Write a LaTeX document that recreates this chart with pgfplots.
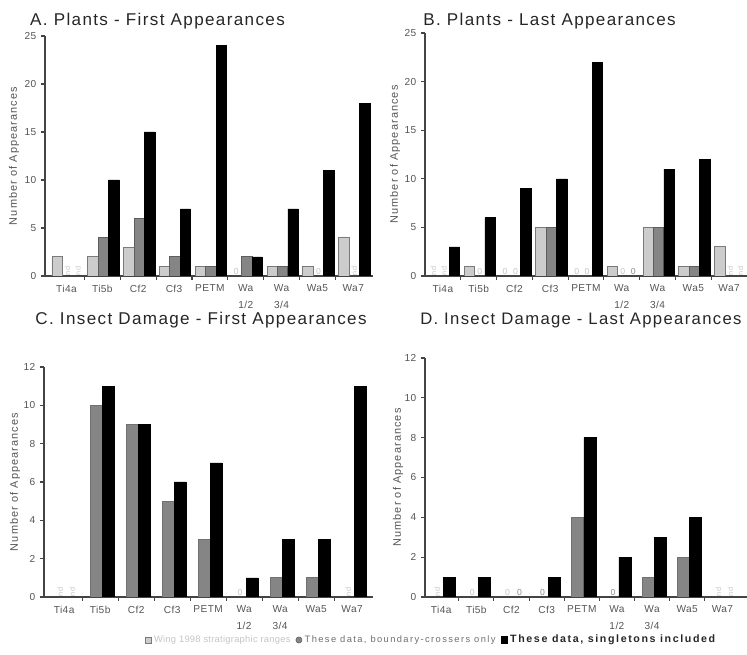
\documentclass[border=0pt]{standalone}
\usepackage{pgfplots}
\pgfplotsset{compat=1.18}
\usepackage{fontspec}
\setmainfont{Liberation Sans}
\newfontfamily\titlefont[LetterSpace=8]{Liberation Sans}
\newfontfamily\lblfont[LetterSpace=10]{Liberation Sans}
\newfontfamily\tickfont[LetterSpace=4]{Liberation Sans}
\newfontfamily\legfontA[LetterSpace=3]{Liberation Sans}
\newfontfamily\legfontB[LetterSpace=15]{Liberation Sans}
\newfontfamily\legfontC[LetterSpace=15]{Liberation Sans}
\definecolor{lightbar}{HTML}{CCCCCC}
\definecolor{lightedge}{HTML}{7A7A7A}
\definecolor{midbar}{HTML}{858585}
\definecolor{midedge}{HTML}{5E5E5E}
\definecolor{ticktext}{HTML}{555555}
\definecolor{faint}{HTML}{C4C4C4}
\definecolor{midtext}{HTML}{8A8A8A}
\definecolor{axisline}{HTML}{444444}
\newcommand{\ndlab}[3]{\node[rotate=90, anchor=west, font=\fontsize{5.5}{5.5}\selectfont, text=#3, inner sep=0.5pt] at ([xshift=#1]axis cs:#2,0) {nd};}
\newcommand{\zlab}[3]{\node[anchor=south, font=\fontsize{6.5}{6.5}\selectfont, text=#3, inner sep=1pt] at ([xshift=#1]axis cs:#2,0) {0};}
\pgfplotsset{
 panel/.style={
  scale only axis,
  axis x line*=bottom, axis y line*=left,
  axis line style={axisline, line width=1.1pt},
  xmin=-0.5, xmax=8.5, ymin=0,
  xtick={0,...,8},
  xticklabels={Ti4a,Ti5b,Cf2,Cf3,PETM,{Wa\\[3.5pt]1/2},{Wa\\[3.5pt]3/4},Wa5,Wa7},
  major x tick style={draw=none},
  minor xtick={0.5,1.5,...,7.5},
  minor x tick style={axisline, line width=0.8pt},
  minor tick length=3pt,
  ytick style={axisline, line width=0.8pt},
  major tick length=3pt,
  tick align=outside,
  /pgf/number format/assume math mode=true,
  ticklabel style={font=\tickfont\fontsize{7.6}{9}\selectfont, text=ticktext},
  xticklabel style={align=center},
  ylabel={Number of Appearances},
  ylabel style={font=\lblfont\fontsize{8.2}{10}\selectfont, text=ticktext, anchor=center},
  title style={font=\titlefont\fontsize{12.8}{14}\selectfont, text=black!85, anchor=west, yshift=-6.75pt, inner sep=0pt},
 },
 lbar/.style={ybar, bar width=7.8pt, bar shift=-7pt, fill=lightbar, draw=lightedge, line width=0.7pt, forget plot},
 gbar/.style={ybar, bar width=7.8pt, bar shift=0.8pt, fill=midbar, draw=midedge, line width=0.7pt, forget plot},
 kbar/.style={ybar, bar width=7.8pt, bar shift=8.6pt, fill=black, draw=black, forget plot},
 gbar2/.style={ybar, bar width=9pt, bar shift=-3pt, fill=midbar, draw=midbar!85!black, line width=0.5pt, forget plot},
 kbar2/.style={ybar, bar width=9pt, bar shift=6pt, fill=black, draw=black, forget plot},
}
\begin{document}
\begin{tikzpicture}
\path[use as bounding box] (0,0) rectangle (560.25pt,491.25pt);

% Panel A
\begin{axis}[panel, at={(33.75pt,284.25pt)}, anchor=south west,
  width=246pt, height=180pt, ymax=25, ytick={0,5,...,25},
  xmin=-0.6, xmax=8.55,
  ylabel style={at={(axis description cs:-0.0945,0.5)}},
  title={A. Plants - First Appearances},
  title style={at={(axis description cs:-0.046,1.067)}}]
\addplot[lbar] coordinates {(0,2)(1,2)(2,3)(3,1)(4,1)(6,1)(7,1)(8,4)};
\addplot[gbar] coordinates {(1,4)(2,6)(3,2)(4,1)(5,2)(6,1)};
\addplot[kbar] coordinates {(1,10)(2,15)(3,7)(4,24)(5,2)(6,7)(7,11)(8,18)};
\ndlab{0.8pt}{0}{faint}
\ndlab{8.6pt}{0}{faint}
\zlab{-7pt}{5}{faint}
\zlab{0.8pt}{7}{faint}
\ndlab{0.8pt}{8}{faint}
\end{axis}

% Panel B
\begin{axis}[panel, at={(318.75pt,284.25pt)}, anchor=south west,
  width=241.5pt, height=182.25pt, ymax=25, ytick={0,5,...,25},
  ylabel style={at={(axis description cs:-0.093,0.5)}},
  title={B. Plants - Last Appearances},
  title style={at={(axis description cs:-0.006,1.053)}}]
\addplot[lbar] coordinates {(1,1)(3,5)(5,1)(6,5)(7,1)(8,3)};
\addplot[gbar] coordinates {(3,5)(6,5)(7,1)};
\addplot[kbar] coordinates {(0,3)(1,6)(2,9)(3,10)(4,22)(6,11)(7,12)};
\ndlab{-7pt}{0}{faint}
\ndlab{0.8pt}{0}{faint}
\zlab{0.8pt}{1}{faint}
\zlab{-7pt}{2}{faint}
\zlab{0.8pt}{2}{faint}
\zlab{-7pt}{4}{faint}
\zlab{0.8pt}{4}{faint}
\zlab{0.8pt}{5}{faint}
\zlab{8.6pt}{5}{midtext}
\ndlab{0.8pt}{8}{faint}
\ndlab{8.6pt}{8}{faint}
\end{axis}

% Panel C
\begin{axis}[panel, at={(33pt,43.5pt)}, anchor=south west,
  width=246.75pt, height=172.5pt, ymax=12, ytick={0,2,...,12},
  xmin=-0.56, xmax=8.58,
  ylabel style={at={(axis description cs:-0.088,0.5)}},
  title={C. Insect Damage - First Appearances},
  title style={at={(axis description cs:-0.027,1.209)}},
  legend style={at={(axis description cs:0.307,-0.187)}, anchor=west,
    draw=none, fill=none, inner sep=0pt, legend columns=3,
    font=\fontsize{7}{8}\selectfont,
    /tikz/every even column/.append style={column sep=2pt}},
  legend cell align=left]
\addplot[gbar2] coordinates {(1,10)(2,9)(3,5)(4,3)(6,1)(7,1)};
\addplot[kbar2] coordinates {(1,11)(2,9)(3,6)(4,7)(5,1)(6,3)(7,3)(8,11)};
\ndlab{-3pt}{0}{faint}
\ndlab{6pt}{0}{faint}
\zlab{-3pt}{5}{faint}
\ndlab{-3pt}{8}{faint}
\addlegendimage{only marks, mark=square*, mark size=2.3pt, mark options={fill=lightbar, draw=lightedge}}
\addlegendentry{\legfontA\textcolor{faint}{Wing 1998 stratigraphic ranges}}
\addlegendimage{only marks, mark=*, mark size=2.3pt, mark options={fill=midbar, draw=midedge}}
\addlegendentry{\legfontB\textcolor{midtext!80!black}{These data, boundary-crossers only}}
\addlegendimage{only marks, mark=square*, mark size=2.5pt, mark options={fill=black, draw=black}}
\addlegendentry{\legfontC\fontsize{8}{9}\selectfont\bfseries\textcolor{black!85}{These data, singletons included}}
\end{axis}

% Panel D
\begin{axis}[panel, at={(318.75pt,43.5pt)}, anchor=south west,
  width=241.5pt, height=179.25pt, ymax=12, ytick={0,2,...,12},
  xmin=-0.46, xmax=8.7,
  ylabel style={at={(axis description cs:-0.084,0.5)}},
  title={D. Insect Damage - Last Appearances},
  title style={at={(axis description cs:-0.0155,1.159)}, font=\titlefont\fontsize{12.5}{14}\selectfont}]
\addplot[gbar2] coordinates {(4,4)(6,1)(7,2)};
\addplot[kbar2] coordinates {(0,1)(1,1)(3,1)(4,8)(5,2)(6,3)(7,4)};
\ndlab{-3pt}{0}{faint}
\zlab{-3pt}{1}{faint}
\zlab{-3pt}{2}{faint}
\zlab{6pt}{2}{midtext}
\zlab{-3pt}{3}{midtext}
\zlab{-3pt}{5}{midtext}
\ndlab{-3pt}{8}{faint}
\ndlab{6pt}{8}{faint}
\end{axis}
\end{tikzpicture}
\end{document}
